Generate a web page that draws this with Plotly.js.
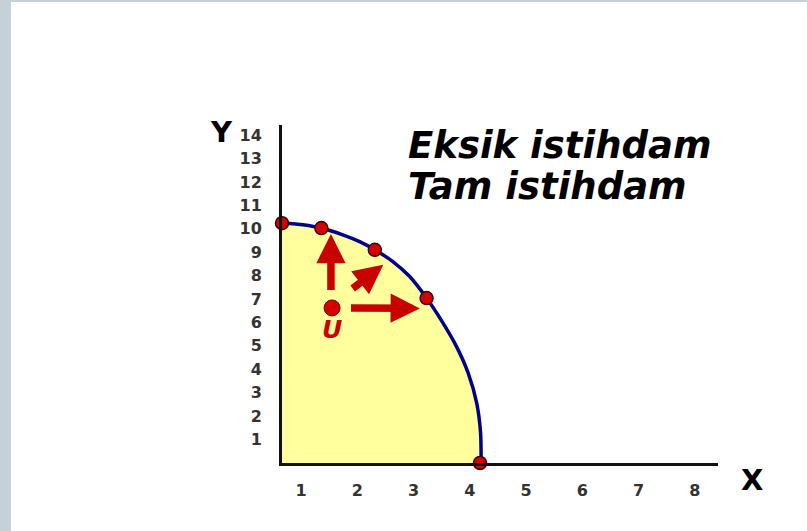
<!DOCTYPE html>
<html>
<head>
<meta charset="utf-8">
<script src="https://cdn.plot.ly/plotly-3.0.1.min.js"></script>
<style>
  html, body { margin:0; padding:0; }
  #wrap { position:relative; width:807px; height:531px; background:#c6d0d7; overflow:hidden; }
  #chart { position:absolute; left:11px; top:2px; width:796px; height:529px; background:#fff; }
</style>
</head>
<body>
<div id="wrap"><div id="chart"></div></div>
<script>
// Production possibilities frontier (in axis-label units)
const curveX = [0.66, 1.03, 1.36, 1.74, 2.04, 2.31, 2.63, 2.93, 3.23, 3.52, 3.76, 3.97, 4.12, 4.19, 4.2, 4.2];
const curveY = [10.26, 10.17, 10.03, 9.74, 9.45, 9.10, 8.60, 7.96, 7.04, 5.98, 4.98, 3.84, 2.57, 1.29, 0.15, 0];
// Points on the frontier (full employment)
const pointX = [0.66, 1.36, 2.31, 3.23, 4.18];
const pointY = [10.24, 10.03, 9.10, 7.04, 0];
// Unemployment point U
const uX = [1.55];
const uY = [6.62];
const uLabel = ['U'];
// Arrows from U towards the frontier
const arrowTailX = [1.53, 1.89, 1.86];
const arrowTailY = [7.32, 7.40, 6.62];
const arrowHeadX = [1.53, 2.46, 3.11];
const arrowHeadY = [9.78, 8.46, 6.60];
// Tick labels
const xTicks = [1, 2, 3, 4, 5, 6, 7, 8];
const yTicks = [1, 2, 3, 4, 5, 6, 7, 8, 9, 10, 11, 12, 13, 14];
const legendTexts = ['Eksik istihdam', 'Tam istihdam'];

const traces = [
  { x: curveX, y: curveY, type: 'scatter', mode: 'lines', fill: 'tozeroy',
    fillcolor: '#ffff9e', line: { color: '#00008f', width: 3.5, shape: 'spline', smoothing: 0.6 },
    hoverinfo: 'skip' },
  { x: pointX, y: pointY, type: 'scatter', mode: 'markers', cliponaxis: false,
    marker: { color: '#d40000', size: 13, line: { color: '#3a0000', width: 1.5 } } },
  { x: uX, y: uY, type: 'scatter', mode: 'markers+text', cliponaxis: false,
    marker: { color: '#d40000', size: 16, line: { color: '#7a0000', width: 1 } },
    text: uLabel, textposition: 'bottom center',
    textfont: { family: 'DejaVu Sans', size: 25, color: '#cc0000', weight: 'bold', style: 'italic' } }
];

const annotations = [];
for (let i = 0; i < arrowTailX.length; i++) {
  annotations.push({ x: arrowHeadX[i], y: arrowHeadY[i], ax: arrowTailX[i], ay: arrowTailY[i],
    xref: 'x', yref: 'y', axref: 'x', ayref: 'y', text: '', showarrow: true,
    arrowhead: 2, arrowsize: 0.78, arrowwidth: 7.5, arrowcolor: '#c80000', standoff: 0 });
}
annotations.push({ xref: 'paper', yref: 'paper', x: 0.285, y: 0.939, xanchor: 'left', yanchor: 'middle',
  text: legendTexts[0], showarrow: false,
  font: { family: 'DejaVu Sans', size: 37, color: '#000', weight: 'bold', style: 'italic' } });
annotations.push({ xref: 'paper', yref: 'paper', x: 0.285, y: 0.817, xanchor: 'left', yanchor: 'middle',
  text: legendTexts[1], showarrow: false,
  font: { family: 'DejaVu Sans', size: 37, color: '#000', weight: 'bold', style: 'italic' } });
annotations.push({ xref: 'paper', yref: 'paper', x: -0.138, y: 0.979, xanchor: 'center', yanchor: 'middle',
  text: 'Y', showarrow: false, font: { family: 'DejaVu Sans', size: 29, color: '#000', weight: 'bold' } });
annotations.push({ xref: 'paper', yref: 'paper', x: 1.077, y: -0.05, xanchor: 'center', yanchor: 'middle',
  text: 'X', showarrow: false, font: { family: 'DejaVu Sans', size: 29, color: '#000', weight: 'bold' } });

const layout = {
  width: 796, height: 529,
  margin: { l: 271, r: 89, t: 123, b: 68, pad: 0 },
  paper_bgcolor: '#ffffff', plot_bgcolor: '#ffffff',
  showlegend: false,
  xaxis: { range: [0.66, 8.41], showgrid: false, zeroline: false, showline: true,
    linecolor: '#111', linewidth: 3, tickvals: xTicks, ticks: '', ticklabelstandoff: 11,
    tickfont: { family: 'DejaVu Sans', size: 16, color: '#333', weight: 'bold' }, fixedrange: true },
  yaxis: { range: [0, 14.43], showgrid: false, zeroline: false, showline: true,
    linecolor: '#111', linewidth: 3, tickvals: yTicks, ticks: '', ticklabelstandoff: 14,
    tickfont: { family: 'DejaVu Sans', size: 16, color: '#333', weight: 'bold' }, fixedrange: true },
  annotations: annotations
};

Plotly.newPlot('chart', traces, layout, { displayModeBar: false, staticPlot: true });
</script>
</body>
</html>
